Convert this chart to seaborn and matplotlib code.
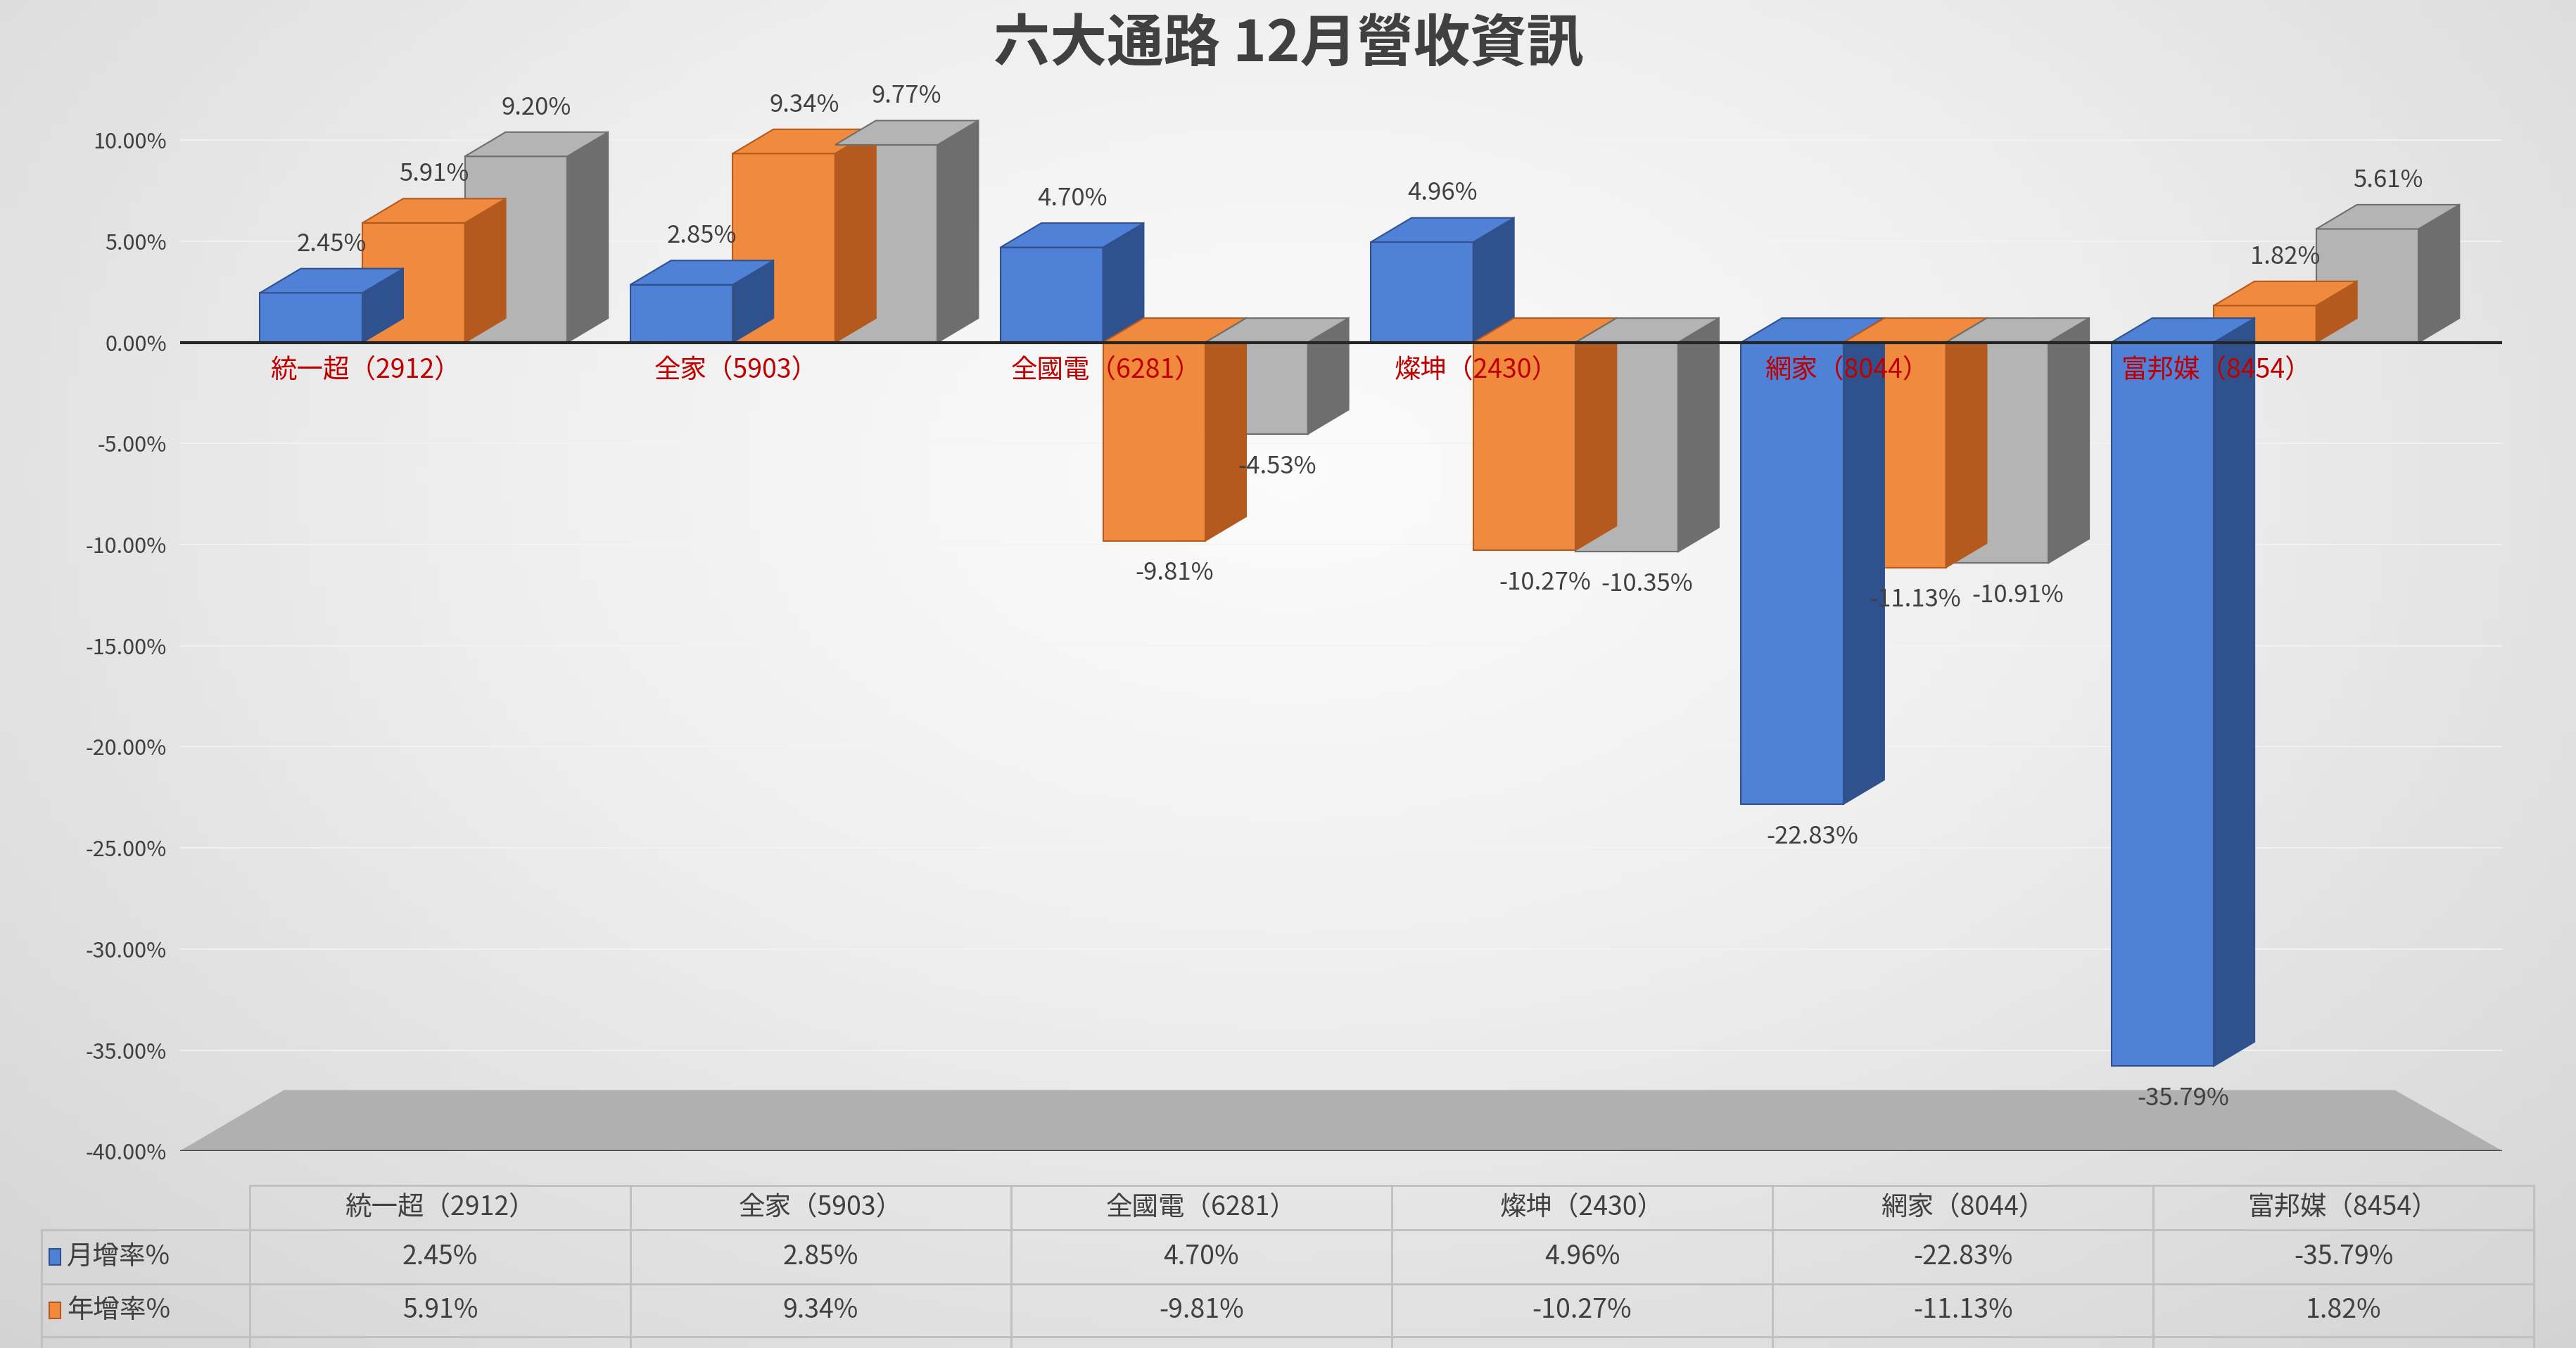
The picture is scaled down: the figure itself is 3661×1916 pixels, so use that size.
import numpy as np
import pandas as pd
import seaborn as sns
import matplotlib.pyplot as plt
from matplotlib import font_manager as fm
from matplotlib.patches import Polygon, Rectangle

cjk = [f.name for f in fm.fontManager.ttflist if 'CJK' in f.name]
pref = [n for n in ['Noto Sans CJK TC', 'Noto Sans CJK JP', 'Noto Sans CJK SC', 'Noto Sans CJK KR'] if n in cjk]
plt.rcParams['font.family'] = (pref or cjk[:1]) + ['DejaVu Sans']

# data
stores = ['統一超（2912）', '全家（5903）', '全國電（6281）', '燦坤（2430）', '網家（8044）', '富邦媒（8454）']
series = ['月增率%', '年增率%', '累計年增率%']
mom = [2.45, 2.85, 4.70, 4.96, -22.83, -35.79]
yoy = [5.91, 9.34, -9.81, -10.27, -11.13, 1.82]
ytd = [9.20, 9.77, -4.53, -10.35, -10.91, 5.61]
yticks = [10, 5, 0, -5, -10, -15, -20, -25, -30, -35, -40]

colors = ['#4F81D6', '#F08A3E', '#B4B4B4']
dark = ['#2F528F', '#B45A1E', '#6E6E6E']

df = pd.DataFrame({'store': stores * 3,
                   'series': np.repeat(series, len(stores)),
                   'value': mom + yoy + ytd})

fig = plt.figure(figsize=(36.62, 19.16), dpi=100)

# background gradient
bg = fig.add_axes([0, 0, 1, 1], zorder=-5)
yy, xx = np.mgrid[0:1:200j, 0:1:200j]
g = 1 - np.sqrt(((xx - 0.5) / 0.9) ** 2 + ((yy - 0.35) / 1.1) ** 2)
bg.imshow(g, cmap='Greys_r', vmin=-2.2, vmax=1.1, extent=[0, 1, 0, 1], aspect='auto')
bg.axis('off')

ax = fig.add_axes([0.070, 0.146, 0.901, 0.78])
ax.patch.set_alpha(0)
sns.barplot(data=df, x='store', y='value', hue='series', palette=colors,
            saturation=1, width=0.83, ax=ax, legend=False, zorder=3)

ax.set_ylim(-40, 12)
ax.set_xlim(-0.63, 5.64)
ax.set_yticks(yticks)
ax.set_yticklabels([f'{t:.2f}%' for t in yticks], fontsize=22, color='#404040')
ax.set_xticks([])
ax.set_xlabel('')
ax.set_ylabel('')
for s in ax.spines.values():
    s.set_visible(False)
ax.tick_params(length=0, pad=14)
for t in yticks:
    if t != 0 and t != -40:
        ax.axhline(t, color='#f4f4f4', lw=1.2, zorder=0)

# floor
ax.add_patch(Polygon([[-0.63, -40], [5.64, -40], [5.35, -37], [-0.35, -37]],
                     closed=True, color='#b0b0b0', zorder=1))
ax.axhline(-40, color='#404040', lw=2.5, zorder=2)

# fake 3D faces
dx, dy = 0.11, 1.2
for k, cont in enumerate(ax.containers):
    for bar, val in zip(cont.patches, cont.datavalues):
        bar.set_edgecolor(dark[k])
        bar.set_linewidth(1.5)
        x0 = bar.get_x()
        w = bar.get_width()
        top = max(val, 0)
        bot = min(val, 0)
        side = Polygon([[x0 + w, bot], [x0 + w + dx, bot + dy], [x0 + w + dx, top + dy], [x0 + w, top]],
                       closed=True, facecolor=dark[k], edgecolor=dark[k], lw=1.5, zorder=3)
        cap = Polygon([[x0, top], [x0 + dx, top + dy], [x0 + w + dx, top + dy], [x0 + w, top]],
                      closed=True, facecolor=colors[k], edgecolor=dark[k], lw=1.5, zorder=3)
        ax.add_patch(side)
        ax.add_patch(cap)
        cx = x0 + w / 2 + dx / 2
        if val >= 0:
            ax.text(cx, top + dy + 0.6, f'{val:.2f}%', ha='center', va='bottom', fontsize=25, color='#404040', zorder=5)
        else:
            ax.text(cx, bot - 1.0, f'{val:.2f}%', ha='center', va='top', fontsize=25, color='#404040', zorder=5)

ax.axhline(0, color='#262626', lw=3, zorder=4)
for i, s in enumerate(stores):
    ax.text(i - 0.13, -0.7, s, ha='center', va='top', fontsize=27, color='#C00000', zorder=6)

fig.text(0.5, 0.967, '六大通路 12月營收資訊', ha='center', va='center', fontsize=58,
         fontweight='bold', color='#404040')

# data table
tl, tr, lx = 0.0969, 0.9834, 0.016
rows_y = [0.1207, 0.0878, 0.0476, 0.0085]
lc = '#bfbfbf'
fig.add_artist(plt.Line2D([tl, tr], [rows_y[0], rows_y[0]], color=lc, lw=2))
for y in rows_y[1:]:
    fig.add_artist(plt.Line2D([lx, tr], [y, y], color=lc, lw=2))
colw = (tr - tl) / len(stores)
for i in range(len(stores) + 1):
    x = tl + i * colw
    fig.add_artist(plt.Line2D([x, x], [0, rows_y[0]], color=lc, lw=2))
fig.add_artist(plt.Line2D([lx, lx], [0, rows_y[1]], color=lc, lw=2))
for i, s in enumerate(stores):
    cx = tl + (i + 0.5) * colw
    fig.text(cx, (rows_y[0] + rows_y[1]) / 2, s, ha='center', va='center', fontsize=27, color='#404040')
    for r, vals in enumerate([mom, yoy]):
        fig.text(cx, (rows_y[r + 1] + rows_y[r + 2]) / 2, f'{vals[i]:.2f}%', ha='center', va='center',
                 fontsize=27, color='#404040')
for r in range(2):
    yc = (rows_y[r + 1] + rows_y[r + 2]) / 2
    fig.add_artist(Rectangle((lx + 0.003, yc - 0.006), 0.0045, 0.012, facecolor=colors[r],
                             edgecolor=dark[r], lw=1.5))
    fig.text(lx + 0.010, yc, series[r], ha='left', va='center', fontsize=27, color='#404040')

fig.savefig('out.png', dpi=100)
